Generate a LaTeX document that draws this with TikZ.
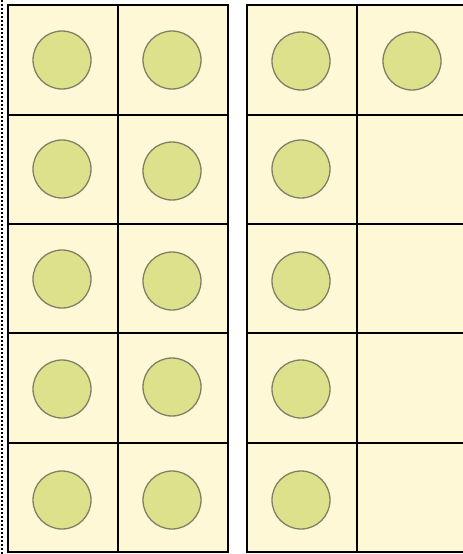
\documentclass[tikz,border=0pt]{standalone}
\definecolor{cellfill}{RGB}{255,248,215}
\definecolor{dotfill}{RGB}{221,225,140}
\definecolor{dotline}{RGB}{128,128,100}
\tikzset{
  cellbox/.style={draw=black, line width=1.5pt, fill=cellfill},
  counter/.style={circle, draw=dotline, line width=1.3pt, fill=dotfill, minimum size=58pt, inner sep=0pt},
}
\begin{document}
\begin{tikzpicture}[x=1pt,y=-1pt]
\useasboundingbox (0,0) rectangle (463,554);
% dashed left edge
\draw[line width=1.6pt, dash pattern=on 2pt off 2pt] (2,0) -- (2,554);
% frames: 2 columns x 5 rows each
\foreach \x in {8,118,247,357} {
  \foreach \y/\h in {5/110,115/109,224/109,333/110,443/109} {
    \draw[cellbox] (\x,\y) rectangle ++(110,\h);
  }
}
% counters
\node[counter] (a1) at (62,60) {};
\node[counter] (b1) at (172,60) {};
\node[counter] (a2) at (62,169) {};
\node[counter] (b2) at (172,171) {};
\node[counter] (a3) at (62,279) {};
\node[counter] (b3) at (172,281) {};
\node[counter] (a4) at (62,389) {};
\node[counter] (b4) at (172,387) {};
\node[counter] (a5) at (62,500) {};
\node[counter] (b5) at (172,500) {};
\node[counter] (c1) at (301,61) {};
\node[counter] (d1) at (412,61) {};
\node[counter] (c2) at (301,169) {};
\node[counter] (c3) at (301,281) {};
\node[counter] (c4) at (301,389) {};
\node[counter] (c5) at (301,500) {};
\end{tikzpicture}
\end{document}
